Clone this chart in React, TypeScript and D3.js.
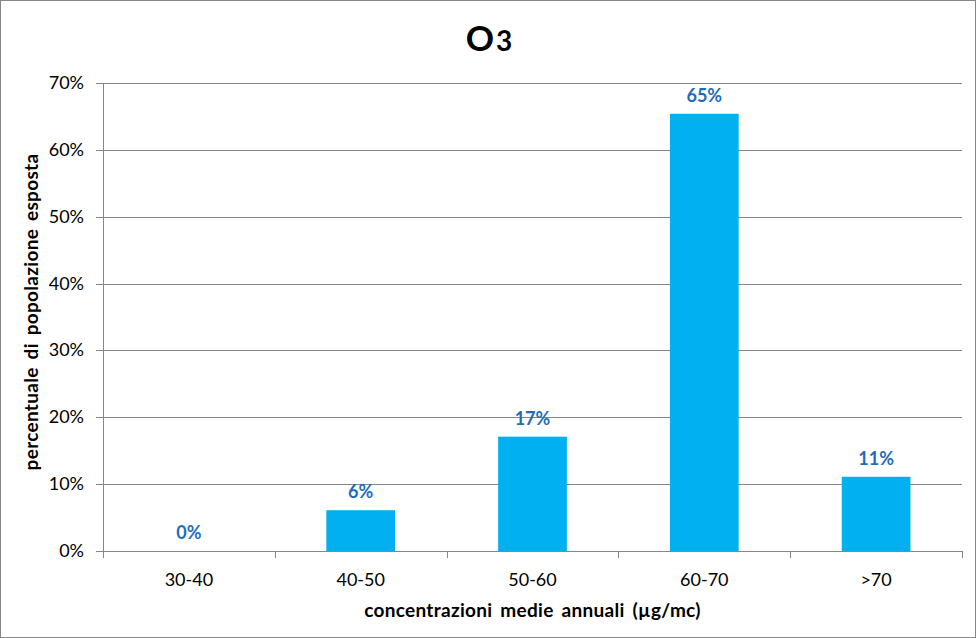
import { useEffect, useRef } from "react";
import * as d3 from "d3";

const W = 976;
const H = 638;
const PAD = { top: 83, right: 14, bottom: 87, left: 103 };

const categories = ["30-40", "40-50", "50-60", "60-70", ">70"];
const values = [0, 6.1, 17.1, 65.4, 11.1];
const labels = ["0%", "6%", "17%", "65%", "11%"];
const yTicks = [0, 10, 20, 30, 40, 50, 60, 70];

const FONT = "Lato, 'Open Sans', sans-serif";

export default function App() {
  const svgRef = useRef<SVGSVGElement>(null);

  useEffect(() => {
    const svg = d3.select(svgRef.current);
    if (!svg.node()) return;
    svg.selectAll("*").remove();

    const x = d3
      .scaleBand()
      .domain(categories)
      .range([PAD.left, W - PAD.right])
      .paddingInner(0.6)
      .paddingOuter(0.3);
    const xEdges = d3
      .scaleBand()
      .domain(categories)
      .range([PAD.left, W - PAD.right]);
    const y = d3
      .scaleLinear()
      .domain([0, 70])
      .range([H - PAD.bottom, PAD.top]);

    svg
      .append("rect")
      .attr("x", 0.5)
      .attr("y", 0.5)
      .attr("width", W - 1)
      .attr("height", H - 1)
      .attr("fill", "#fff")
      .attr("stroke", "#868686");

    // grid
    svg
      .append("g")
      .selectAll("line")
      .data(yTicks)
      .enter()
      .append("line")
      .attr("x1", PAD.left - 7)
      .attr("x2", W - PAD.right)
      .attr("y1", (d) => Math.round(y(d)) + 0.5)
      .attr("y2", (d) => Math.round(y(d)) + 0.5)
      .attr("stroke", "#868686")
      .attr("stroke-width", 1);

    // y axis line
    svg
      .append("line")
      .attr("x1", PAD.left + 0.5)
      .attr("x2", PAD.left + 0.5)
      .attr("y1", y(70))
      .attr("y2", y(0))
      .attr("stroke", "#868686");

    // category ticks
    const edges = [...categories.map((c) => xEdges(c)!), W - PAD.right];
    svg
      .append("g")
      .selectAll("line")
      .data(edges)
      .enter()
      .append("line")
      .attr("x1", (d) => Math.round(d) + 0.5)
      .attr("x2", (d) => Math.round(d) + 0.5)
      .attr("y1", y(0))
      .attr("y2", y(0) + 7)
      .attr("stroke", "#868686");

    // y tick labels
    svg
      .append("g")
      .selectAll("text")
      .data(yTicks)
      .enter()
      .append("text")
      .attr("x", PAD.left - 19)
      .attr("y", (d) => y(d) + 6)
      .attr("text-anchor", "end")
      .style("font-family", FONT)
      .style("font-size", "18px")
      .attr("fill", "#000")
      .text((d) => `${d}%`);

    // x tick labels
    svg
      .append("g")
      .selectAll("text")
      .data(categories)
      .enter()
      .append("text")
      .attr("x", (d) => xEdges(d)! + xEdges.bandwidth() / 2)
      .attr("y", y(0) + 35)
      .attr("text-anchor", "middle")
      .style("font-family", FONT)
      .style("font-size", "18px")
      .attr("fill", "#000")
      .text((d) => d);

    // bars
    svg
      .append("g")
      .selectAll("rect")
      .data(values)
      .enter()
      .append("rect")
      .attr("x", (_d, i) => x(categories[i])!)
      .attr("width", x.bandwidth())
      .attr("y", (d) => y(d))
      .attr("height", (d) => y(0) - y(d))
      .attr("fill", "#00B0F0");

    // data labels
    svg
      .append("g")
      .selectAll("text")
      .data(values)
      .enter()
      .append("text")
      .attr("x", (_d, i) => x(categories[i])! + x.bandwidth() / 2)
      .attr("y", (d) => y(d) - 12)
      .attr("text-anchor", "middle")
      .style("font-family", FONT)
      .style("font-size", "18px")
      .style("font-weight", "bold")
      .attr("fill", "#1F6DB8")
      .text((_d, i) => labels[i]);

    // title
    const title = svg
      .append("text")
      .attr("x", 489)
      .attr("y", 51)
      .attr("text-anchor", "middle")
      .style("font-family", FONT)
      .style("font-weight", "bold")
      .attr("fill", "#000");
    title.append("tspan").style("font-size", "35px").text("O");
    title.append("tspan").style("font-size", "28px").attr("dx", 2).text("3");

    // axis titles
    svg
      .append("text")
      .attr("x", (PAD.left + W - PAD.right) / 2)
      .attr("y", 617)
      .attr("text-anchor", "middle")
      .style("font-family", FONT)
      .style("font-size", "19px")
      .style("font-weight", "bold")
      .style("letter-spacing", "0.3px")
      .style("word-spacing", "3px")
      .attr("fill", "#000")
      .text("concentrazioni medie annuali (µg/mc)");

    svg
      .append("text")
      .attr("transform", `translate(38,${(y(0) + y(70)) / 2 - 5}) rotate(-90)`)
      .attr("text-anchor", "middle")
      .style("font-family", FONT)
      .style("font-size", "19px")
      .style("font-weight", "bold")
      .style("letter-spacing", "0.3px")
      .style("word-spacing", "3px")
      .attr("fill", "#000")
      .text("percentuale di popolazione esposta");
  }, []);

  return (
    <svg
      ref={svgRef}
      width={W}
      height={H}
      style={{ display: "block", position: "absolute", left: 0, top: 0 }}
    />
  );
}
